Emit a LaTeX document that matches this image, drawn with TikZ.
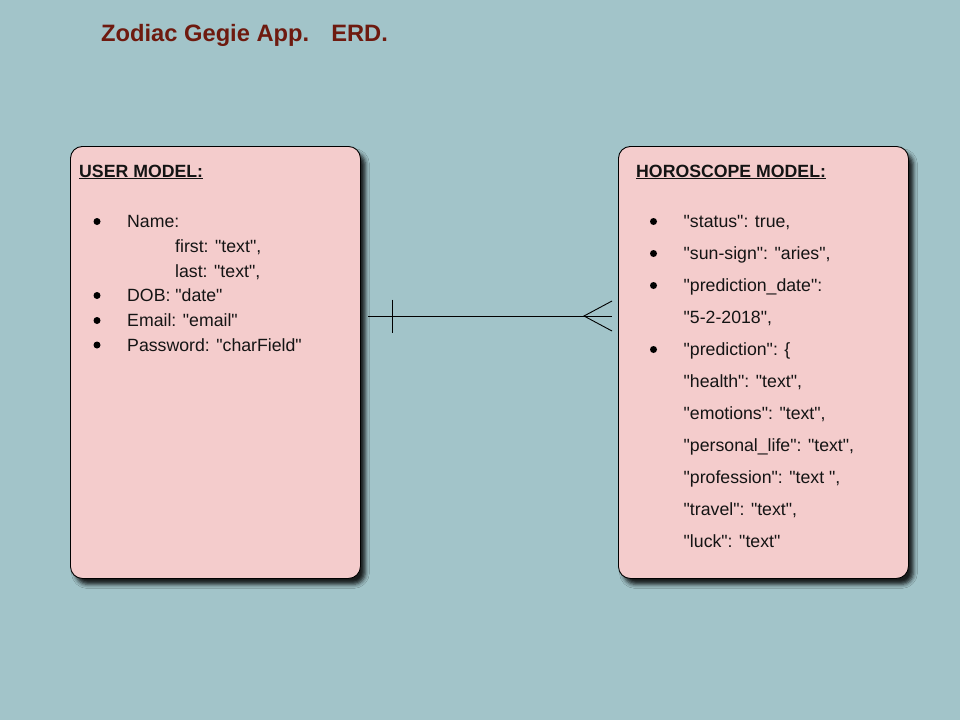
\documentclass[tikz,border=0pt]{standalone}
\usepackage{fontspec}
\setmainfont{Liberation Sans}[Ligatures=TeXOff]
\usetikzlibrary{calc,shadows,shadows.blur}
\definecolor{bgc}{HTML}{A2C4C9}
\definecolor{boxc}{HTML}{F4CCCC}
\definecolor{titc}{HTML}{6E1A0F}
\begin{document}
\begin{tikzpicture}[x=1pt,y=-1pt,
  model/.style={draw=black, line width=0.9pt, fill=boxc, rounded corners=12pt,
    minimum width=290pt, minimum height=432pt, anchor=north west, inner sep=0pt,
    blur shadow={shadow xshift=5pt, shadow yshift=-6pt, shadow blur radius=4pt, shadow opacity=85}},
  txt/.style={anchor=base west, inner sep=0pt, font=\fontsize{17.7}{20}\selectfont, text=black!92},
  hdr/.style={txt, font=\fontsize{17.7}{20}\selectfont\bfseries},
  bul/.style={circle, fill=black, inner sep=0pt, minimum size=7pt},
  conn/.style={line width=0.9pt, black}]
\fill[bgc] (0,0) rectangle (960,720);
\useasboundingbox (0,0) rectangle (960,720);
% title
\node[anchor=base west, inner sep=0pt, text=titc, font=\fontsize{23.7}{28}\selectfont\bfseries] (title) at (101,41) {Zodiac Gegie App.\hspace{22pt}ERD.};
% boxes
\node[model] (ubox) at (70,146) {};
\node[model] (hbox) at (618,146) {};
% user model
\node[hdr] (uh) at (79,177) {\underline{USER MODEL:}};
\foreach \y/\n in {221.5/ub1, 295.5/ub2, 320.5/ub3, 345/ub4}
  \node[bul] (\n) at (97,\y) {};
\node[txt] (u1) at (127,227.5) {Name:};
\node[txt] (u2) at (175,252) {first: "text",};
\node[txt] (u3) at (175,277) {last: "text",};
\node[txt] (u4) at (127,301.5) {DOB: "date"};
\node[txt] (u5) at (127,326) {Email: "email"};
\node[txt] (u6) at (127,351) {Password: "charField"};
% horoscope model
\node[hdr] (hh) at (636,177) {\underline{HOROSCOPE MODEL:}};
\foreach \y/\n in {221.5/hb1, 253.5/hb2, 285.5/hb3, 349.5/hb4}
  \node[bul] (\n) at (653.5,\y) {};
\node[txt] (h1) at (683.5,227.7) {"status": true,};
\node[txt] (h2) at (683.5,259.7) {"sun-sign": "aries",};
\node[txt] (h3) at (683.5,291.7) {"prediction\_date":};
\node[txt] (h4) at (683.5,323.7) {"5-2-2018",};
\node[txt] (h5) at (683.5,355.7) {"prediction": \{};
\node[txt] (h6) at (683.5,387.7) {"health": "text",};
\node[txt] (h7) at (683.5,419.7) {"emotions": "text",};
\node[txt] (h8) at (683.5,451.7) {"personal\_life": "text",};
\node[txt] (h9) at (683.5,483.7) {"profession": "text ",};
\node[txt] (h10) at (683.5,515.7) {"travel": "text",};
\node[txt] (h11) at (683.5,547.7) {"luck": "text"};
% connector
\path (ubox.north east |- 0,316) ++(7.5,0) coordinate (ca);
\path (hbox.north west |- 0,316) ++(-6,0) coordinate (cb);
\draw[conn] (ca) -- (cb);
\draw[conn] ($(ca)+(24,-16.5)$) -- ($(ca)+(24,16.5)$);
\draw[conn] ($(cb)+(0,-15)$) -- ($(cb)+(-28,0)$) -- ($(cb)+(0,15)$);
\end{tikzpicture}
\end{document}
